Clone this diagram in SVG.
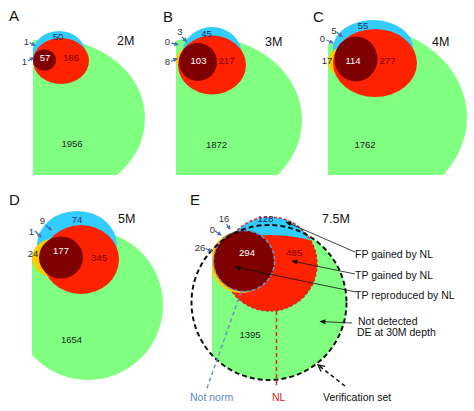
<svg xmlns="http://www.w3.org/2000/svg" width="474" height="411" viewBox="0 0 474 411">
<defs>
<style>
text{font-family:"Liberation Sans",Arial,sans-serif}
.g{fill:#80ff80}.b{fill:#33ccff}.r{fill:#ff2200}.dr{fill:#7f0000}.y{fill:#ffcc00}
.lab{font-size:15px;fill:#111}
.dep{font-size:12.5px;fill:#111}
.n{font-size:9.5px;text-anchor:middle}
.nb{fill:#1b2f66}.nw{fill:#fff}.nr{fill:#7a0000}.nk{fill:#1a2a1a}
.sm{font-size:9.5px;fill:#333;text-anchor:middle}
.sa{stroke:#4a72b8;stroke-width:1.3;marker-end:url(#ba)}
.ann{font-size:10.5px;fill:#111}
.al{stroke:#111;stroke-width:0.8;fill:none;marker-end:url(#ka)}
</style>
<marker id="ba" viewBox="0 0 10 10" refX="8" refY="5" markerWidth="3.5" markerHeight="3.5" orient="auto"><path d="M0,0L10,5L0,10z" fill="#4a72b8"/></marker>
<marker id="ka" viewBox="0 0 10 10" refX="9" refY="5" markerWidth="7" markerHeight="6" markerUnits="userSpaceOnUse" orient="auto"><path d="M0,1L10,5L0,9z" fill="#111"/></marker>
<marker id="va" viewBox="0 0 10 10" refX="9" refY="5" markerWidth="8" markerHeight="8" markerUnits="userSpaceOnUse" orient="auto"><path d="M1,1L9,5L1,9" fill="none" stroke="#111" stroke-width="1.6"/></marker>
<clipPath id="cA"><rect x="33" y="0" width="150" height="175"/></clipPath>
<clipPath id="cB"><rect x="176" y="0" width="150" height="175"/></clipPath>
<clipPath id="cC"><rect x="328" y="0" width="146" height="175"/></clipPath>
<clipPath id="cCg"><path d="M328,44L345,44L345,30L474,30L474,175L328,175Z"/></clipPath>
<clipPath id="cD"><rect x="32" y="195" width="150" height="200"/></clipPath>
<clipPath id="cE"><rect x="212" y="195" width="200" height="200"/></clipPath>
<clipPath id="nlE"><circle cx="270" cy="400" r="165"/></clipPath>
</defs>
<rect width="474" height="411" fill="#fff"/>

<g id="panel-A">
<g clip-path="url(#cA)">
<ellipse id="A-notdetected" class="g" cx="51" cy="118.5" rx="94" ry="79.5"/>
<ellipse id="A-fp" class="b" cx="59" cy="55" rx="27" ry="24"/>
<ellipse id="A-tpgained" class="r" cx="61" cy="61" rx="28" ry="23"/>
<ellipse id="A-tprepro" class="dr" cx="44.5" cy="60" rx="11.5" ry="10.5"/>
</g>
<text class="lab" x="9" y="21">A</text>
<text class="dep" x="117" y="45">2M</text>
<text class="n nb" x="58" y="39.5">50</text>
<text class="n nw" x="45" y="60.5">57</text>
<text class="n nr" x="71" y="60.5">186</text>
<text class="n nk" x="72" y="146.5">1956</text>
<text class="sm" x="26.5" y="45">1</text>
<text class="sm" x="24.5" y="65">1</text>
</g>

<g id="panel-B">
<g clip-path="url(#cB)">
<ellipse id="B-notdetected" class="g" cx="205" cy="120" rx="97" ry="83"/>
<ellipse id="B-fp" class="b" cx="212" cy="55" rx="30" ry="28"/>
<ellipse id="B-notnorm" class="y" cx="196" cy="60" rx="20" ry="14"/>
<ellipse id="B-tpgained" class="r" cx="212" cy="65" rx="34" ry="29.5"/>
<ellipse id="B-tprepro" class="dr" cx="198" cy="62" rx="19" ry="19"/>
</g>
<text class="lab" x="163" y="22">B</text>
<text class="dep" x="265" y="46">3M</text>
<text class="n nb" x="206.5" y="36.5">45</text>
<text class="n nw" x="198.5" y="64">103</text>
<text class="n nr" x="226.5" y="64">217</text>
<text class="n nk" x="216.5" y="148">1872</text>
<text class="sm" x="180" y="35">3</text>
<text class="sm" x="167.5" y="45">0</text>
<text class="sm" x="167.5" y="65">8</text>
</g>

<g id="panel-C">
<g clip-path="url(#cC)">
<ellipse id="C-notdetected" class="g" cx="356" cy="117.5" rx="111" ry="92.6" clip-path="url(#cCg)"/>
<ellipse id="C-fp" class="b" cx="373" cy="48" rx="40" ry="28"/>
<ellipse id="C-notnorm" class="y" cx="354" cy="62" rx="26" ry="18"/>
<ellipse id="C-tpgained" class="r" cx="375" cy="63" rx="42" ry="34"/>
<ellipse id="C-tprepro" class="dr" cx="356" cy="59" rx="21.5" ry="22.5"/>
</g>
<text class="lab" x="313" y="22">C</text>
<text class="dep" x="432" y="46">4M</text>
<text class="n nb" x="363" y="29">55</text>
<text class="n nw" x="353" y="64">114</text>
<text class="n nr" x="387.5" y="64">277</text>
<text class="n nk" x="327" y="64">17</text>
<text class="n nk" x="365" y="148">1762</text>
<text class="sm" x="334" y="34">5</text>
<text class="sm" x="322.5" y="42.3">0</text>
</g>

<g id="panel-D">
<g clip-path="url(#cD)">
<circle id="D-notdetected" class="g" cx="88" cy="305" r="75"/>
<ellipse id="D-fp" class="b" cx="77" cy="245" rx="40" ry="34"/>
<ellipse id="D-notnorm" class="y" cx="57" cy="258" rx="25" ry="20"/>
<ellipse id="D-tpgained" class="r" cx="81" cy="259.5" rx="38" ry="34.5"/>
<ellipse id="D-tprepro" class="dr" cx="61" cy="257.5" rx="22" ry="21"/>
</g>
<text class="lab" x="9" y="205">D</text>
<text class="dep" x="118" y="223">5M</text>
<text class="n nb" x="77" y="223">74</text>
<text class="n nw" x="61" y="254">177</text>
<text class="n nr" x="99" y="261">345</text>
<text class="n nk" x="33" y="257">24</text>
<text class="n nk" x="71.5" y="343">1654</text>
<text class="sm" x="42.5" y="224">9</text>
<text class="sm" x="31.5" y="235">1</text>
</g>

<g id="panel-E">
<g id="E-notdetected"><circle class="g" cx="269" cy="302.5" r="77.5" clip-path="url(#cE)"/></g>
<g id="E-fp"><circle class="b" cx="270" cy="264" r="47"/></g>
<g id="E-tpgained"><circle class="r" cx="270" cy="264" r="47" clip-path="url(#nlE)"/></g>
<circle id="E-NL" cx="270" cy="264" r="47" fill="none" stroke="#d62a1e" stroke-width="1.5" stroke-dasharray="3 2"/>
<g id="E-notnorm-only"><circle class="y" cx="241" cy="262" r="31" clip-path="url(#cE)"/></g>
<g id="E-tprepro"><circle class="dr" cx="244" cy="261" r="30.5"/></g>
<circle id="E-NotNorm" cx="244" cy="261" r="30.5" fill="none" stroke="#6d8fc6" stroke-width="1.5" stroke-dasharray="4 2"/>
<circle id="E-Verification" cx="269" cy="302.5" r="77.5" fill="none" stroke="#111" stroke-width="2" stroke-dasharray="5 3"/>
<text class="lab" x="190" y="205">E</text>
<text class="dep" x="322" y="223">7.5M</text>
<text class="n nb" x="265.5" y="222">128</text>
<text class="n nw" x="247" y="256">294</text>
<text class="n nr" x="294" y="256">485</text>
<text class="n nk" x="250" y="338">1395</text>
<text class="sm" x="224" y="222">16</text>
<text class="sm" x="212.5" y="233">0</text>
<text class="sm" x="200" y="251">26</text>
<text class="ann" x="355" y="258">FP gained by NL</text>
<text class="ann" x="355" y="278.5">TP gained by NL</text>
<text class="ann" x="355" y="298.5">TP reproduced by NL</text>
<text class="ann" x="358" y="324.5">Not detected</text>
<text class="ann" x="357" y="335.5">DE at 30M depth</text>
<text class="ann" x="323" y="401">Verification set</text>
<text class="ann" x="190" y="401" style="fill:#5b87c5">Not norm</text>
<text class="ann" x="272" y="401" style="fill:#e02020">NL</text>
</g>

<g id="connectors">
<line class="sa" x1="29.5" y1="42.5" x2="35" y2="45.5"/>
<line class="sa" x1="28" y1="61" x2="33.5" y2="57.5"/>
<line class="sa" x1="182" y1="37" x2="186.5" y2="41.5"/>
<line class="sa" x1="171.5" y1="43" x2="178" y2="44.5"/>
<line class="sa" x1="171" y1="61.5" x2="177" y2="58.5"/>
<line class="sa" x1="336.5" y1="32" x2="342" y2="36.5"/>
<line class="sa" x1="326.5" y1="40" x2="333" y2="43"/>
<line class="sa" x1="45.5" y1="225" x2="51.5" y2="230"/>
<line class="sa" x1="35" y1="231" x2="41" y2="237"/>
<line class="sa" x1="226.5" y1="224" x2="230" y2="229"/>
<line class="sa" x1="215" y1="231" x2="221" y2="235"/>
<line class="sa" x1="205.5" y1="248.5" x2="211.5" y2="251"/>
<line class="al" x1="355" y1="252" x2="286" y2="222"/>
<line class="al" x1="355" y1="274" x2="292" y2="261"/>
<line class="al" x1="356" y1="292" x2="235" y2="267"/>
<line class="al" x1="352" y1="323" x2="320" y2="321.5"/>
<line x1="345" y1="386" x2="318" y2="365" stroke="#111" stroke-width="1.5" stroke-dasharray="4 3" marker-end="url(#va)"/>
<line x1="241" y1="292" x2="206" y2="391" stroke="#6d8fc6" stroke-width="1.5" stroke-dasharray="4 3"/>
<line x1="276.5" y1="311" x2="276.5" y2="388" stroke="#d62a1e" stroke-width="1.5" stroke-dasharray="4 3"/>
</g>
</svg>
